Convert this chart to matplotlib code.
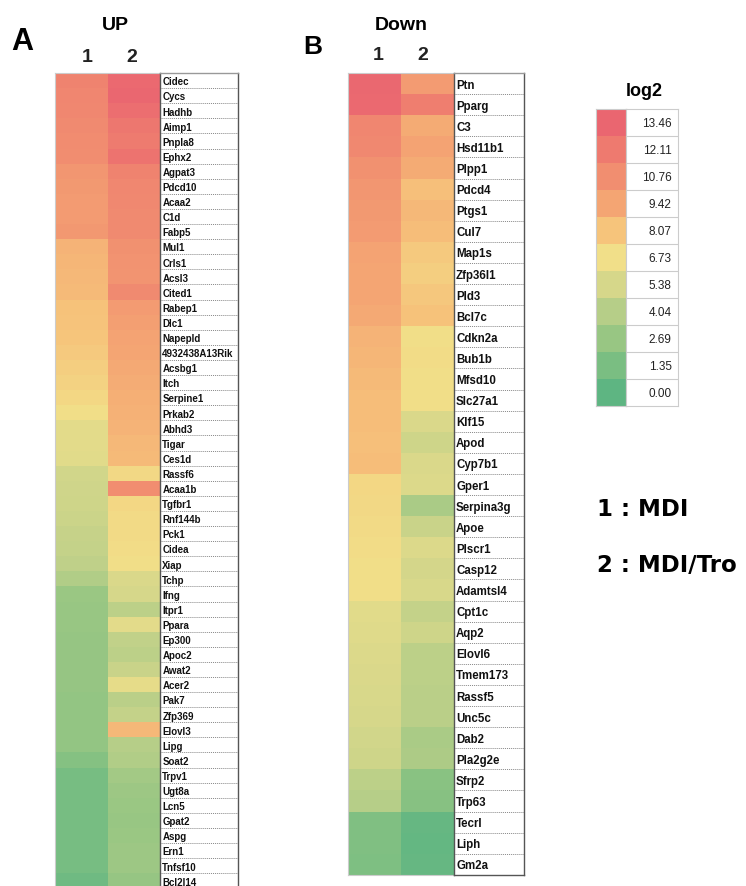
import matplotlib
matplotlib.use("Agg")
import matplotlib.pyplot as plt
import numpy as np
from matplotlib.colors import LinearSegmentedColormap, Normalize

plt.rcParams['font.family'] = ['Liberation Sans', 'DejaVu Sans']

# ---------------- data ----------------
up_genes = ["Cidec", "Cycs", "Hadhb", "Aimp1", "Pnpla8", "Ephx2", "Agpat3", "Pdcd10",
            "Acaa2", "C1d", "Fabp5", "Mul1", "Crls1", "Acsl3", "Cited1", "Rabep1",
            "Dlc1", "Napepld", "4932438A13Rik", "Acsbg1", "Itch", "Serpine1", "Prkab2",
            "Abhd3", "Tigar", "Ces1d", "Rassf6", "Acaa1b", "Tgfbr1", "Rnf144b", "Pck1",
            "Cidea", "Xiap", "Tchp", "Ifng", "Itpr1", "Ppara", "Ep300", "Apoc2", "Awat2",
            "Acer2", "Pak7", "Zfp369", "Elovl3", "Lipg", "Soat2", "Trpv1", "Ugt8a",
            "Lcn5", "Gpat2", "Aspg", "Ern1", "Tnfsf10", "Bcl2l14"]
up_mdi = [11.5, 11.3, 11.2, 11.0, 10.9, 10.8, 10.3, 10.1, 10.0, 10.0, 10.2, 8.8, 8.7,
          8.6, 8.5, 8.2, 8.1, 8.0, 7.8, 7.6, 7.4, 7.2, 6.8, 6.0, 6.0, 5.9, 5.2, 5.1,
          5.0, 4.9, 4.7, 4.6, 4.4, 3.8, 2.8, 2.7, 2.7, 2.6, 2.6, 2.6, 2.6, 2.5, 2.5,
          2.5, 2.5, 1.8, 1.2, 1.2, 1.2, 1.2, 1.2, 1.2, 1.2, 0.8]
up_tro = [13.2, 13.4, 12.9, 12.3, 12.0, 12.6, 11.5, 11.2, 11.1, 11.0, 11.0, 10.6, 10.5,
          10.4, 11.0, 10.0, 9.8, 9.6, 9.5, 9.3, 9.1, 9.0, 8.9, 8.8, 8.6, 8.5, 7.1, 10.8,
          7.2, 7.0, 7.0, 6.9, 6.8, 5.6, 5.4, 4.3, 6.0, 4.5, 4.3, 4.8, 6.2, 4.2, 4.6,
          8.6, 4.0, 3.8, 3.2, 2.9, 2.8, 2.7, 2.8, 2.9, 2.9, 2.6]

down_genes = ["Ptn", "Pparg", "C3", "Hsd11b1", "Plpp1", "Pdcd4", "Ptgs1", "Cul7", "Map1s",
              "Zfp36l1", "Pld3", "Bcl7c", "Cdkn2a", "Bub1b", "Mfsd10", "Slc27a1", "Klf15",
              "Apod", "Cyp7b1", "Gper1", "Serpina3g", "Apoe", "Plscr1", "Casp12",
              "Adamtsl4", "Cpt1c", "Aqp2", "Elovl6", "Tmem173", "Rassf5", "Unc5c", "Dab2",
              "Pla2g2e", "Sfrp2", "Trp63", "Tecrl", "Liph", "Gm2a"]
down_mdi = [13.3, 13.2, 11.3, 11.1, 10.6, 10.3, 10.1, 10.0, 9.6, 9.5, 9.5, 9.3, 8.8, 8.7,
            8.5, 8.4, 8.4, 8.3, 8.4, 7.2, 7.1, 7.0, 6.9, 6.8, 6.8, 5.9, 5.8, 5.7, 5.6,
            5.5, 5.4, 5.2, 5.0, 4.3, 4.0, 1.6, 1.6, 1.5]
down_tro = [10.0, 11.8, 9.2, 9.6, 9.2, 8.3, 8.6, 8.4, 7.8, 7.6, 7.9, 8.2, 6.8, 6.9, 6.8,
            6.8, 5.6, 5.0, 5.6, 5.7, 3.5, 4.8, 5.7, 5.3, 5.5, 4.6, 5.0, 4.3, 4.3, 4.2,
            4.2, 3.5, 3.6, 2.0, 1.9, 0.4, 0.3, 0.4]

legend_values = [13.46, 12.11, 10.76, 9.42, 8.07, 6.73, 5.38, 4.04, 2.69, 1.35, 0.00]
legend_colors = ["#EA6670", "#EE7A6F", "#F18E70", "#F4A673", "#F6C47B", "#F1E089",
                 "#D6D78A", "#B7CE88", "#98C683", "#7BBE82", "#5EB582"]
column_labels = ["1", "2"]
condition_labels = ["1 : MDI", "2 : MDI/Tro"]

# ---------------- colour scale ----------------
vmin, vmax = 0.0, 13.46
anchors = sorted(zip([(v - vmin) / (vmax - vmin) for v in legend_values], legend_colors))
cmap = LinearSegmentedColormap.from_list("log2", anchors)
norm = Normalize(vmin=vmin, vmax=vmax)

W, H = 746, 887
fig = plt.figure(figsize=(W / 100, H / 100), dpi=100)


def px_axes(x0, y0, x1, y1):
    return fig.add_axes([x0 / W, 1 - y1 / H, (x1 - x0) / W, (y1 - y0) / H])


def heat_panel(x0, xm, x1, xl, y0, row_h, genes, c1, c2, fs):
    n = len(genes)
    y1 = y0 + n * row_h
    ax = px_axes(x0, y0, xm, y1)
    data = np.column_stack([c1, c2])
    ax.pcolormesh(np.arange(3), np.arange(n + 1), data, cmap=cmap, norm=norm)
    ax.set_xlim(0, 2)
    ax.set_ylim(n, 0)
    ax.set_xticks([])
    ax.set_yticks([])
    for s in ax.spines.values():
        s.set_color("#cccccc")
        s.set_linewidth(0.8)
    ax.spines["right"].set_visible(False)

    lx = px_axes(xm, y0, xl, y1)
    lx.set_xlim(0, 1)
    lx.set_ylim(n, 0)
    lx.set_xticks([])
    lx.set_yticks([])
    for s in lx.spines.values():
        s.set_color("#555555")
        s.set_linewidth(1.0)
    lx.spines["top"].set_color("#999999")
    for i in range(1, n):
        lx.axhline(i, color="#888888", lw=0.7, ls=(0, (1, 1)))
    for i, g in enumerate(genes):
        lx.text(0.03, i + 0.55, g, ha="left", va="center", fontsize=fs,
                fontweight="bold", color="#111111")
    return ax


# Panel A (UP)
heat_panel(55, 160, 238, 238, 74, 15.1, up_genes, up_mdi, up_tro, 7.0)
# Panel B (Down)
heat_panel(348, 454, 524, 524, 74, 21.1, down_genes, down_mdi, down_tro, 8.3)

# Legend
lg = px_axes(596, 110, 626, 407)
lg.pcolormesh(np.arange(2), np.arange(len(legend_values) + 1),
              np.array(legend_values)[:, None], cmap=cmap, norm=norm)
lg.set_xlim(0, 1)
lg.set_ylim(len(legend_values), 0)
lg.set_xticks([])
lg.set_yticks([])
for s in lg.spines.values():
    s.set_color("#cccccc")
    s.set_linewidth(0.8)

ll = px_axes(626, 110, 678, 407)
ll.set_xlim(0, 1)
ll.set_ylim(len(legend_values), 0)
ll.set_xticks([])
ll.set_yticks([])
for s in ll.spines.values():
    s.set_color("#cccccc")
    s.set_linewidth(0.8)
for i in range(1, len(legend_values)):
    ll.axhline(i, color="#cccccc", lw=0.8)
for i, v in enumerate(legend_values):
    ll.text(0.88, i + 0.52, f"{v:.2f}", ha="right", va="center", fontsize=8.5,
            color="#222222")


def ftext(x, y, s, **kw):
    fig.text(x / W, 1 - y / H, s, **kw)


ftext(22, 42, "A", ha="center", va="center", fontsize=22, fontweight="bold")
ftext(115, 25, "UP", ha="center", va="center", fontsize=14, fontweight="bold")
ftext(87, 57, column_labels[0], ha="center", va="center", fontsize=14, fontweight="bold",
      color="#222222")
ftext(132, 57, column_labels[1], ha="center", va="center", fontsize=14, fontweight="bold",
      color="#222222")

ftext(313, 47, "B", ha="center", va="center", fontsize=19, fontweight="bold")
ftext(401, 25, "Down", ha="center", va="center", fontsize=14, fontweight="bold")
ftext(378, 55, column_labels[0], ha="center", va="center", fontsize=14, fontweight="bold",
      color="#222222")
ftext(423, 55, column_labels[1], ha="center", va="center", fontsize=14, fontweight="bold",
      color="#222222")

ftext(644, 92, "log2", ha="center", va="center", fontsize=13, fontweight="bold")
ftext(597, 510, condition_labels[0], ha="left", va="center", fontsize=16.5,
      fontweight="bold", family=["DejaVu Sans"])
ftext(597, 566, condition_labels[1], ha="left", va="center", fontsize=16.5,
      fontweight="bold", family=["DejaVu Sans"])

fig.savefig("out.png", dpi=100)
